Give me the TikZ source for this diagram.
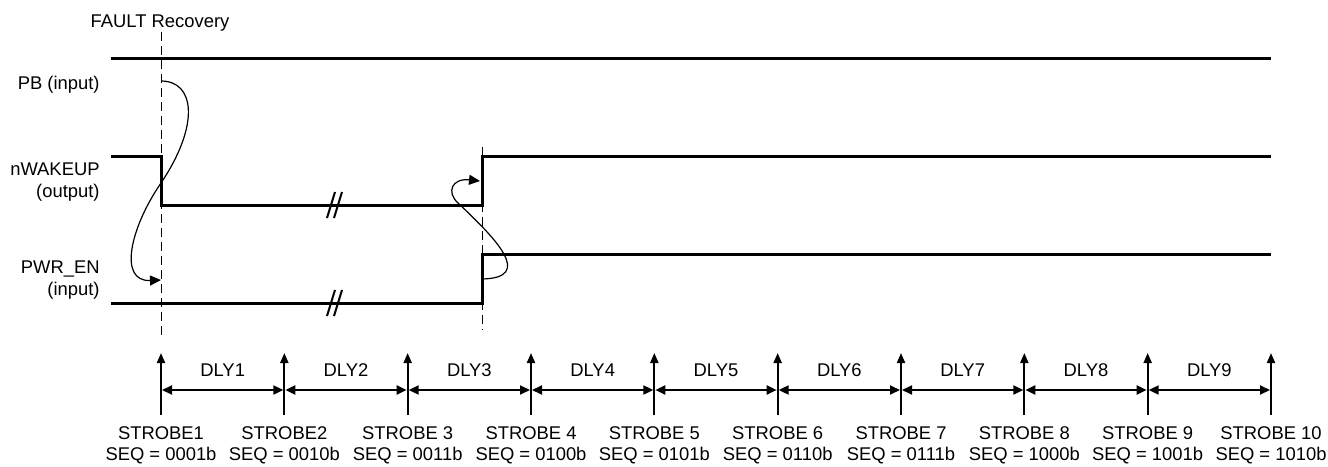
\documentclass[tikz,border=0pt]{standalone}
\usepackage{fontspec}
\setmainfont{Liberation Sans}
\usetikzlibrary{arrows.meta,positioning,calc}

\tikzset{
  sig/.style={line width=1.5pt},
  guide/.style={line width=0.5pt, dash pattern=on 4.5pt off 2.5pt},
  cause/.style={line width=0.6pt, -{Triangle[length=5.5pt,width=5pt]}},
  strobe/.style={line width=1pt, -{Triangle[length=5pt,width=4pt]}},
  dly/.style={line width=1pt, {Triangle[length=5pt,width=4.5pt]}-{Triangle[length=5pt,width=4.5pt]}},
  brk/.style={line width=1pt},
  lbl/.style={inner sep=0pt, font=\fontsize{9.2}{11}\selectfont},
}

\begin{document}
\begin{tikzpicture}[x=0.5pt,y=-0.5pt]
  \useasboundingbox (0,0) rectangle (1328,466);

  % signal names
  \node[lbl, anchor=base] (fault) at (160,27) {FAULT Recovery};
  \node[lbl, anchor=base east] (pb) at (100,89) {PB (input)};
  \node[lbl, anchor=base east] (nwake) at (100,175) {nWAKEUP};
  \node[lbl, anchor=base east] (nwakeio) at (100,197) {(output)};
  \node[lbl, anchor=base east] (pwren) at (100,273) {PWR\_EN};
  \node[lbl, anchor=base east] (pwrenio) at (100,295) {(input)};

  % waveforms
  \coordinate (fall) at (161,205);
  \coordinate (rise) at (482,156);
  \coordinate (pwrup) at (482,254);
  \draw[sig] (111,58) -- (1271,58);
  \draw[sig] (111,156) -- (161,156) -- (fall) -- (482,205) -- (rise) -- (1271,156);
  \draw[sig] (111,303) -- (482,303) -- (pwrup) -- (1271,254);

  % breaks
  \foreach \y in {205,303} {
    \draw[brk] (327,{\y+13}) -- (335,{\y-13});
    \draw[brk] (334,{\y+13}) -- (342,{\y-13});
  }

  % guides
  \coordinate (g1top) at (161,32);
  \coordinate (g1bot) at (161,340);
  \coordinate (g2top) at (482,147);
  \coordinate (g2bot) at (482,330);
  \draw[guide] (g1top) -- (g1bot);
  \draw[guide] (g2top) -- (g2bot);

  % cause and effect
  \coordinate (pbedge) at (161,81);
  \coordinate (entip) at (161,280);
  \coordinate (enedge) at (482,279);
  \coordinate (wktip) at (480,181);
  \draw[cause] (pbedge) .. controls (195,81) and (200,125) .. (161,183)
    .. controls (130,228) and (118,282) .. (entip);
  \draw[cause] (enedge) .. controls (535,278) and (495,238) .. (458,203)
    .. controls (446,192) and (452,178) .. (wktip);

  % strobes
  \foreach \i in {1,...,10}
    \coordinate (s\i) at ({161+(\i-1)*123.333},415);
  \foreach \i in {1,...,10}
    \draw[strobe] (s\i) -- ++(0,-62);
  \foreach \i [evaluate=\i as \j using int(\i+1)] in {1,...,9} {
    \draw[dly] ($(s\i)+(1,-25)$) -- ($(s\j)+(-1,-25)$);
    \node[lbl, anchor=base] (dly\i) at ($(s\i)!.5!(s\j)+(0,-38.3)$) {DLY\i};
  }
  \foreach \i/\name/\seq in {1/STROBE1/0001b, 2/STROBE2/0010b, 3/STROBE 3/0011b,
      4/STROBE 4/0100b, 5/STROBE 5/0101b, 6/STROBE 6/0110b, 7/STROBE 7/0111b,
      8/STROBE 8/1000b, 9/STROBE 9/1001b, 10/STROBE 10/1010b} {
    \node[lbl, anchor=base] (name\i) at ($(s\i)+(0,24.3)$) {\name};
    \node[lbl, anchor=base] (seq\i) at ($(s\i)+(0,45)$) {SEQ = \seq};
  }
\end{tikzpicture}
\end{document}
